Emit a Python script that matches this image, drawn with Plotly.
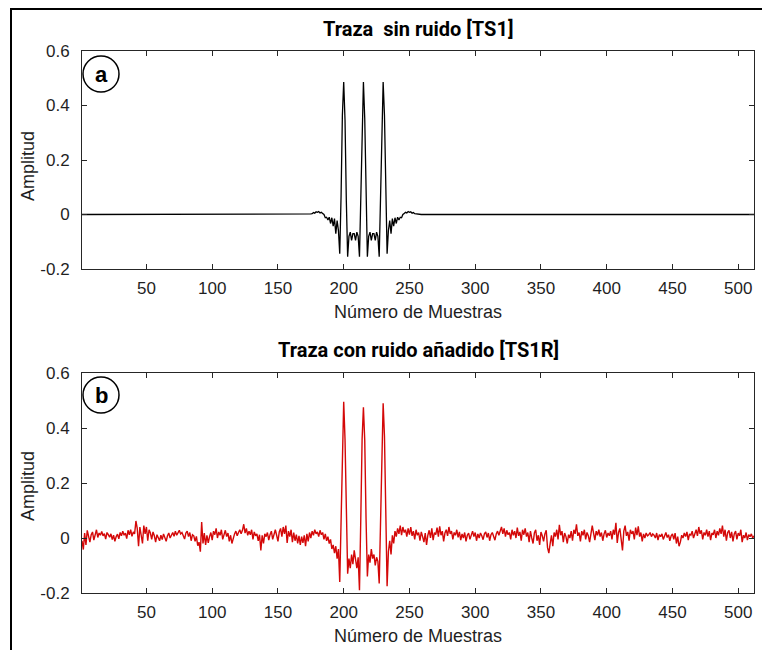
import plotly.graph_objects as go

# ---------------- data ----------------
sample_first, sample_last = 1, 512
samples = list(range(sample_first, sample_last + 1))

# clean trace TS1 (flat zero outside the event window)
clean_lead = [0.0] * 173          # n = 1..173
clean_event = [                   # n = 174..256
    0.001, 0.002, 0.003, 0.007, 0.005, 0.010, 0.008, 0.011, 0.006, 0.008,
    0.004, 0.000, -0.012, -0.010, -0.020, -0.010, -0.033, -0.012, -0.043, -0.015,
    -0.070, -0.022, -0.059, -0.144, 0.068, 0.364, 0.486, 0.348, 0.050, -0.155,
    -0.080, -0.065, -0.095, -0.070, -0.070, -0.095, -0.065, -0.080, -0.155, 0.058,
    0.352, 0.486, 0.352, 0.058, -0.155, -0.080, -0.065, -0.095, -0.070, -0.070,
    -0.095, -0.065, -0.080, -0.155, 0.050, 0.348, 0.486, 0.364, 0.068, -0.144,
    -0.059, -0.022, -0.070, -0.015, -0.043, -0.012, -0.033, -0.010, -0.020, -0.010,
    -0.012, 0.000, 0.004, 0.008, 0.006, 0.011, 0.008, 0.010, 0.005, 0.007,
    0.003, 0.002, 0.001,
]
clean_tail = [0.0] * 256          # n = 257..512
clean_trace = clean_lead + clean_event + clean_tail

# noisy trace TS1R, n = 1..512 (16 per row)
noisy_trace = [
    -0.010, -0.042, 0.018, -0.025, 0.028, 0.004, -0.015, 0.012, 0.022, -0.008, 0.015, 0.030, 0.002, 0.018, 0.010, 0.024,
    0.008, 0.016, -0.004, 0.020, 0.012, 0.003, 0.015, -0.006, 0.010, -0.012, 0.005, 0.014, -0.003, 0.020, 0.008, 0.025,
    0.010, 0.018, -0.002, 0.028, 0.012, 0.030, 0.006, 0.022, 0.015, 0.062, 0.035, -0.030, 0.040, 0.010, -0.020, 0.045,
    0.015, 0.040, -0.010, 0.030, 0.018, -0.005, 0.022, 0.008, -0.015, 0.012, 0.000, -0.010, 0.010, -0.006, 0.015, 0.002,
    -0.012, 0.008, 0.018, 0.000, 0.012, 0.020, 0.006, 0.025, 0.010, 0.022, 0.028, 0.015, 0.020, 0.008, -0.004, 0.018,
    0.025, 0.005, 0.020, -0.010, 0.012, 0.008, -0.012, 0.006, -0.028, -0.015, -0.050, 0.058, -0.020, 0.018, -0.025, 0.010,
    -0.018, 0.005, 0.020, -0.008, 0.025, 0.012, 0.035, 0.000, 0.022, 0.010, 0.030, -0.005, 0.015, 0.028, 0.005, 0.018,
    -0.012, 0.010, -0.020, 0.002, 0.015, 0.025, 0.008, 0.020, 0.030, 0.015, 0.028, 0.050, 0.018, 0.035, 0.010, 0.025,
    0.012, 0.030, -0.005, 0.022, 0.008, 0.015, -0.010, 0.012, -0.045, 0.010, -0.020, 0.015, 0.005, 0.020, -0.008, 0.012,
    0.025, -0.005, 0.018, 0.030, 0.010, -0.012, 0.022, 0.035, 0.005, 0.040, 0.015, 0.045, -0.018, 0.025, 0.005, 0.030,
    -0.015, 0.020, -0.010, 0.012, -0.020, 0.008, -0.025, 0.005, -0.018, 0.010, -0.030, 0.015, -0.012, 0.020, 0.000, 0.025,
    0.010, 0.030, 0.015, 0.022, 0.005, 0.028, 0.012, 0.020, -0.005, 0.015, -0.010, 0.005, -0.020, -0.005, -0.040, -0.025,
    -0.055, -0.030, -0.075, -0.040, -0.160, 0.075, 0.365, 0.495, 0.360, 0.060, -0.130, -0.075, -0.110, -0.060, -0.095, -0.045,
    -0.080, -0.110, -0.070, -0.190, 0.070, 0.360, 0.475, 0.355, 0.070, -0.140, -0.060, -0.090, -0.040, -0.075, -0.060, -0.100,
    -0.070, -0.085, -0.165, 0.060, 0.370, 0.490, 0.370, 0.080, -0.175, -0.050, -0.010, -0.060, 0.010, -0.020, 0.025, 0.005,
    0.035, 0.015, 0.045, 0.010, 0.040, 0.020, 0.030, 0.005, 0.035, 0.012, 0.040, 0.008, 0.025, -0.005, 0.030, 0.010,
    0.020, -0.010, 0.022, 0.005, -0.015, 0.018, -0.025, 0.010, 0.028, 0.000, 0.035, -0.008, 0.020, 0.012, 0.038, 0.005,
    0.042, 0.010, 0.025, -0.012, 0.018, 0.030, 0.008, 0.040, 0.015, 0.025, -0.005, 0.020, 0.010, 0.030, 0.002, 0.022,
    -0.008, 0.015, 0.000, 0.020, -0.012, 0.010, 0.018, -0.005, 0.012, 0.025, 0.005, 0.020, -0.010, 0.015, 0.000, 0.018,
    0.008, -0.006, 0.015, 0.022, 0.002, 0.018, -0.010, 0.012, 0.020, 0.005, -0.008, 0.015, 0.025, 0.010, 0.030, 0.040,
    0.015, 0.035, 0.005, 0.028, 0.012, 0.020, -0.005, 0.030, 0.010, 0.025, 0.000, 0.038, 0.008, 0.022, -0.010, 0.030,
    0.012, 0.035, 0.005, 0.020, -0.015, 0.025, 0.000, -0.020, 0.018, 0.030, -0.010, 0.010, -0.025, 0.022, 0.008, -0.012,
    0.015, 0.028, -0.035, -0.055, -0.020, 0.010, -0.030, 0.020, 0.005, 0.030, -0.005, 0.048, 0.010, 0.025, -0.015, 0.018,
    0.005, -0.020, 0.012, 0.000, 0.025, -0.010, 0.030, 0.015, 0.050, 0.008, 0.020, -0.012, 0.025, 0.010, 0.030, -0.005,
    0.020, 0.008, -0.015, 0.012, 0.045, 0.018, -0.008, 0.025, 0.010, 0.030, 0.005, 0.020, -0.010, 0.015, 0.028, 0.002,
    0.018, 0.008, 0.025, -0.005, 0.030, 0.012, 0.055, -0.018, 0.020, 0.035, 0.000, -0.045, 0.025, 0.045, 0.008, 0.022,
    -0.010, 0.030, 0.015, 0.025, -0.005, 0.038, 0.010, 0.042, 0.005, 0.020, -0.012, 0.015, 0.000, 0.018, 0.008, 0.012,
    0.020, 0.005, 0.015, 0.010, 0.000, 0.018, -0.008, 0.012, 0.005, 0.015, -0.005, 0.010, 0.020, 0.002, 0.012, -0.010,
    0.008, 0.015, -0.005, 0.018, -0.020, 0.005, -0.030, -0.015, 0.010, 0.000, 0.018, 0.005, 0.022, -0.008, 0.015, 0.010,
    0.025, 0.000, 0.018, 0.030, 0.008, 0.040, 0.015, 0.028, -0.005, 0.020, 0.010, 0.030, 0.005, 0.025, -0.008, 0.018,
    0.012, 0.030, 0.000, 0.025, 0.010, 0.035, 0.015, 0.045, 0.005, 0.030, -0.010, 0.020, 0.028, 0.000, 0.022, -0.012,
    0.015, 0.025, -0.005, 0.018, 0.008, 0.030, -0.015, 0.010, 0.000, 0.020, -0.008, 0.012, 0.005, 0.015, 0.000, 0.008,
]
assert len(clean_trace) == 512 and len(noisy_trace) == 512

x_tick_vals = [50, 100, 150, 200, 250, 300, 350, 400, 450, 500]
y_tick_vals = [-0.2, 0, 0.2, 0.4, 0.6]
y_tick_text = ["-0.2", "0", "0.2", "0.4", "0.6"]

title_top = "Traza\u00a0 sin ruido [TS1]"
title_bottom = "Traza con ruido añadido [TS1R]"
x_title = "Número de Muestras"
y_title = "Amplitud"

# ---------------- layout geometry (pixels) ----------------
W, H = 762, 650
L, R, T, B = 82, 754, 51, 593
TOP_PANEL = (51, 269)
BOT_PANEL = (373, 593)


def fx(p):
    return (p - L) / (R - L)


def fy(p):
    return (B - p) / (B - T)


TICK_FONT = dict(family="Liberation Sans, Arial, sans-serif", size=17, color="#1f1f1f")
TITLE_FONT = dict(family="Roboto, Liberation Sans, Arial, sans-serif", size=20, color="black")
LABEL_FONT = dict(family="Liberation Sans, Arial, sans-serif", size=18, color="#1f1f1f")

fig = go.Figure()
fig.add_trace(go.Scatter(x=samples, y=clean_trace, mode="lines",
                         line=dict(color="black", width=1.3),
                         xaxis="x", yaxis="y", showlegend=False))
fig.add_trace(go.Scatter(x=samples, y=noisy_trace, mode="lines",
                         line=dict(color="#d40808", width=1.4),
                         xaxis="x2", yaxis="y2", showlegend=False))

axis_common = dict(showline=True, linecolor="#262626", linewidth=1, mirror="allticks",
                   ticks="inside", ticklen=5, tickcolor="#262626", showgrid=False,
                   zeroline=False, tickfont=TICK_FONT)

fig.update_layout(
    width=W, height=H,
    margin=dict(l=L, r=W - R, t=T, b=H - B),
    paper_bgcolor="white", plot_bgcolor="white",
    xaxis=dict(axis_common, domain=[0, 1], anchor="y", range=[sample_first, sample_last],
               tickvals=x_tick_vals, ticklabelstandoff=4),
    yaxis=dict(axis_common, domain=[fy(TOP_PANEL[1]), fy(TOP_PANEL[0])], anchor="x",
               range=[-0.2, 0.6], tickvals=y_tick_vals, ticktext=y_tick_text,
               ticklabelstandoff=8),
    xaxis2=dict(axis_common, domain=[0, 1], anchor="y2", range=[sample_first, sample_last],
                tickvals=x_tick_vals, ticklabelstandoff=4),
    yaxis2=dict(axis_common, domain=[fy(BOT_PANEL[1]), fy(BOT_PANEL[0])], anchor="x2",
                range=[-0.2, 0.6], tickvals=y_tick_vals, ticktext=y_tick_text,
                ticklabelstandoff=8),
)

annots = []
cx = (L + R) / 2
for text, ycen in [(title_top, 29), (title_bottom, 350)]:
    annots.append(dict(text="<b>" + text + "</b>", x=fx(cx), y=fy(ycen), xref="paper", yref="paper",
                       showarrow=False, font=TITLE_FONT, xanchor="center", yanchor="middle"))
for ycen in [312, 636]:
    annots.append(dict(text=x_title, x=fx(cx), y=fy(ycen), xref="paper", yref="paper",
                       showarrow=False, font=LABEL_FONT, xanchor="center", yanchor="middle"))
for ycen in [166, 486]:
    annots.append(dict(text=y_title, x=fx(28), y=fy(ycen), xref="paper", yref="paper",
                       showarrow=False, font=LABEL_FONT, textangle=-90,
                       xanchor="center", yanchor="middle"))

shapes = []
for letter, ycen in [("a", 74), ("b", 395)]:
    r = 18
    xc = 101
    shapes.append(dict(type="circle", xref="paper", yref="paper",
                       x0=fx(xc - r), x1=fx(xc + r), y0=fy(ycen + r), y1=fy(ycen - r),
                       line=dict(color="black", width=1.5), fillcolor="white"))
    annots.append(dict(text="<b>" + letter + "</b>", x=fx(xc), y=fy(ycen + 1), xref="paper", yref="paper",
                       showarrow=False, font=dict(family="Liberation Sans, Arial, sans-serif",
                                                  size=22, color="black"),
                       xanchor="center", yanchor="middle"))

# outer frame
shapes.append(dict(type="rect", xref="paper", yref="paper",
                   x0=fx(11), x1=fx(766), y0=fy(655), y1=fy(9),
                   line=dict(color="black", width=2), fillcolor="rgba(0,0,0,0)", layer="above"))

fig.update_layout(annotations=annots, shapes=shapes)
fig.write_html("out.html")
